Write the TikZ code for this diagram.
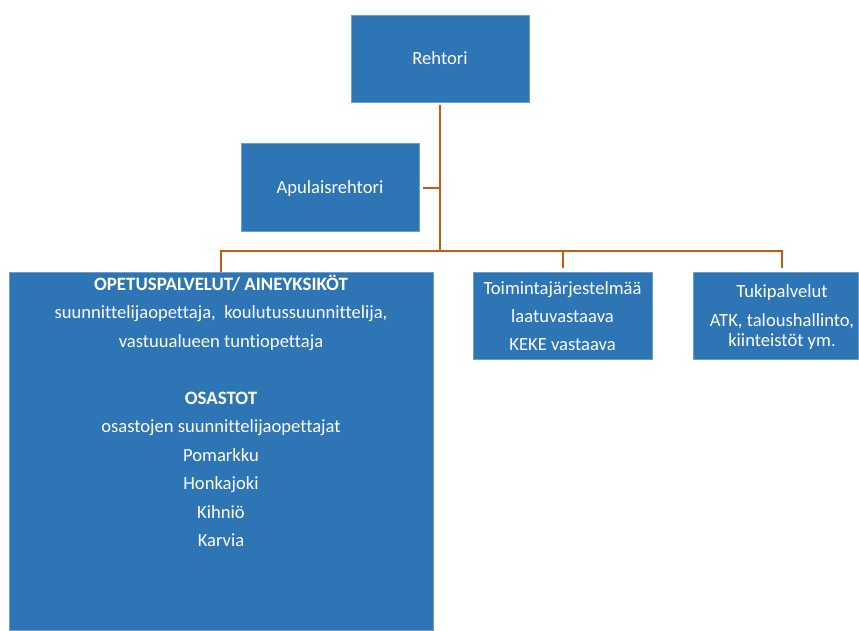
\documentclass[tikz,border=0pt]{standalone}
\usepackage{fontspec}
\setmainfont[Ligatures=NoCommon]{Carlito}
\definecolor{boxblue}{HTML}{2E75B6}
\definecolor{boxedge}{HTML}{6A9FD0}
\definecolor{linkorange}{HTML}{C55A11}
\begin{document}
\begin{tikzpicture}[x=1pt,y=-1pt,
  box/.style={draw=boxedge, line width=0.6pt, fill=boxblue, inner sep=0pt},
  txt/.style={text=white, font=\fontsize{18.6}{22}\selectfont, anchor=base, inner sep=0pt},
  btxt/.style={txt, font=\fontsize{18.9}{22}\selectfont\bfseries},
  link/.style={draw=linkorange, line width=2.8pt}]
\useasboundingbox (0,0) rectangle (859,630);
% boxes
\node[box, minimum width=178pt, minimum height=87pt] (reh) at (440,58.5) {};
\node[box, minimum width=178pt, minimum height=88pt] (apu) at (330,187) {};
\node[box, minimum width=424pt, minimum height=358pt] (ope) at (221,451) {};
\node[box, minimum width=179pt, minimum height=87pt] (toi) at (562.5,315.5) {};
\node[box, minimum width=165pt, minimum height=87pt] (tuk) at (775.5,315.5) {};
% texts
\node[txt] (trh) at (440,64) {Rehtori};
\node[txt] (tap) at (330,193) {Apulaisrehtori};
\node[btxt] (o1) at (221,290) {OPETUSPALVELUT/ AINEYKSIKÖT};
\node[txt] (o2) at (221,318.5) {suunnittelijaopettaja,\ \ koulutussuunnittelija,};
\node[txt] (o3) at (221,347) {vastuualueen tuntiopettaja};
\node[btxt] (o4) at (221,404) {OSASTOT};
\node[txt] (o5) at (221,432.5) {osastojen suunnittelijaopettajat};
\node[txt] (o6) at (221,461) {Pomarkku};
\node[txt] (o7) at (221,489.5) {Honkajoki};
\node[txt] (o8) at (221,518) {Kihniö};
\node[txt] (o9) at (221,546.5) {Karvia};
\node[txt] (t1) at (562.5,294) {Toimintajärjestelmää};
\node[txt] (t2) at (562.5,322) {laatuvastaava};
\node[txt] (t3) at (562.5,350) {KEKE vastaava};
\node[txt] (u1) at (782,297) {Tukipalvelut};
\node[txt] (u2) at (782,326) {ATK, taloushallinto,};
\node[txt] (u3) at (782,346) {kiinteistöt ym.};
% connectors
\coordinate (jtop) at (440,105);
\coordinate (japu) at (440,188);
\coordinate (jbar) at (440,251);
\coordinate (jl) at (221,251);
\coordinate (jm) at (563,251);
\coordinate (jr) at (782,251);
\draw[link] (jtop) -- (jbar);
\draw[link] (japu) -- ([xshift=4pt]apu.east |- japu);
\draw[link] ([xshift=-1.4pt]jl) -- ([xshift=1.4pt]jr);
\draw[link] (jl) -- (jl |- ope.north);
\draw[link] (jm) -- ([yshift=4pt]jm |- toi.north);
\draw[link] (jr) -- ([yshift=4pt]jr |- tuk.north);
\end{tikzpicture}
\end{document}
